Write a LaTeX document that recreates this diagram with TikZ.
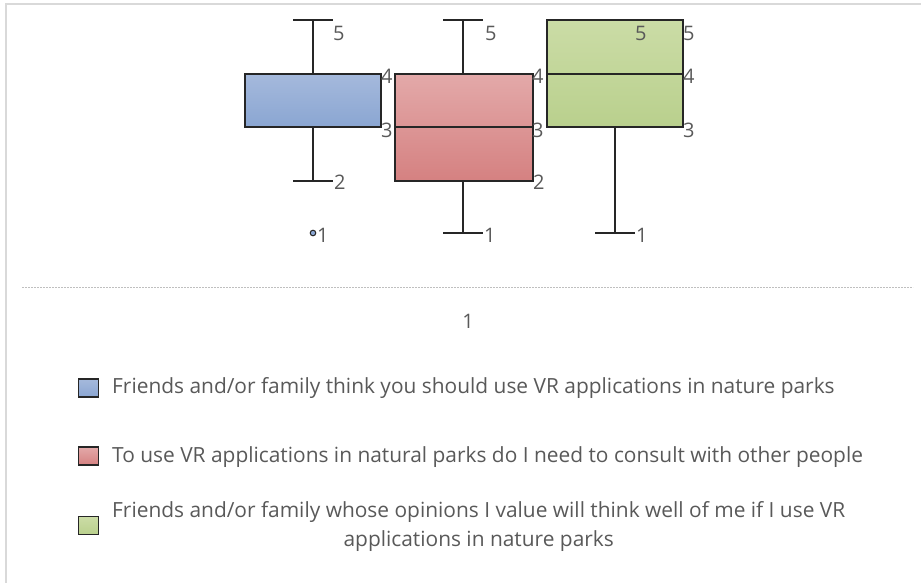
\documentclass[tikz,border=0pt]{standalone}
\usepackage{fontspec}
\setmainfont{Open Sans}
\usepackage{xcolor}
\usetikzlibrary{positioning}

\definecolor{txtgrey}{HTML}{595959}
\definecolor{edgegrey}{HTML}{262626}
\definecolor{bluetop}{HTML}{A5B9DC}
\definecolor{bluebot}{HTML}{8AA6D2}
\definecolor{redtop}{HTML}{E3A9A9}
\definecolor{redbot}{HTML}{D58181}
\definecolor{greentop}{HTML}{CBDCA6}
\definecolor{greenbot}{HTML}{B9D08D}

\begin{document}
\begin{tikzpicture}[
        x=1pt, y=-1pt,
        boxrect/.style={draw=edgegrey, line width=1.6pt},
        whisker/.style={draw=edgegrey, line width=1.6pt},
        vallabel/.style={font=\fontsize{20}{20}\selectfont, text=txtgrey, inner sep=0pt, anchor=west},
        legendtext/.style={font=\fontsize{20.9}{29}\selectfont, text=txtgrey, inner sep=0pt, anchor=west, align=center},
        legendkey/.style={draw=edgegrey, line width=1.8pt, minimum width=20pt, minimum height=18pt, inner sep=0pt}
    ]

    \useasboundingbox (0,0) rectangle (921,583);

    % Rahmen
    \draw[draw=black!15, line width=2pt] (6,583) -- (6,4) -- (921,4);

    % Box 1 (blau)
    \coordinate (B1top) at (313,20);
    \coordinate (B1q3) at (313,74);
    \coordinate (B1q1) at (313,127);
    \coordinate (B1bot) at (313,181);
    \draw[whisker] (B1top) -- (B1q3);
    \draw[whisker] (B1q1) -- (B1bot);
    \draw[whisker] (293,20) -- (333,20);
    \draw[whisker] (293,181) -- (333,181);
    \draw[boxrect, top color=bluetop, bottom color=bluebot] (245,74) rectangle (381,127);
    \fill[bluebot, draw=edgegrey, line width=1pt] (313,233) circle (2.8);
    \node[vallabel] (b1five) at (333,33) {5};
    \node[vallabel] (b1four) at (381,76) {4};
    \node[vallabel] (b1three) at (381,130) {3};
    \node[vallabel] (b1two) at (334,182) {2};
    \node[vallabel] (b1one) at (317,235) {1};

    % Box 2 (rot)
    \coordinate (B2top) at (463,20);
    \coordinate (B2q3) at (463,74);
    \coordinate (B2q1) at (463,181);
    \coordinate (B2bot) at (463,233);
    \draw[whisker] (B2top) -- (B2q3);
    \draw[whisker] (B2q1) -- (B2bot);
    \draw[whisker] (443,20) -- (483,20);
    \draw[whisker] (443,233) -- (483,233);
    \draw[boxrect, top color=redtop, bottom color=redbot] (395,74) rectangle (533,181);
    \draw[whisker] (395,127) -- (533,127);
    \node[vallabel] (b2five) at (485,33) {5};
    \node[vallabel] (b2four) at (532,76) {4};
    \node[vallabel] (b2three) at (532,130) {3};
    \node[vallabel] (b2two) at (533,182) {2};
    \node[vallabel] (b2one) at (484,235) {1};

    % Box 3 (gruen)
    \coordinate (B3q1) at (615,127);
    \coordinate (B3bot) at (615,233);
    \draw[whisker] (B3q1) -- (B3bot);
    \draw[whisker] (595,233) -- (635,233);
    \draw[boxrect, top color=greentop, bottom color=greenbot] (547,20) rectangle (683,127);
    \draw[whisker] (547,74) -- (683,74);
    \node[vallabel] (b3fivein) at (635,33) {5};
    \node[vallabel] (b3five) at (683,33) {5};
    \node[vallabel] (b3four) at (683,76) {4};
    \node[vallabel] (b3three) at (683,130) {3};
    \node[vallabel] (b3one) at (636,235) {1};

    % Achse
    \draw[draw=black!25, line width=1pt, dash pattern=on 2pt off 1pt] (22,287) -- (913,287);
    \node[vallabel, anchor=center] (axisone) at (468,321) {1};

    % Legende
    \node[legendkey, top color=bluetop, bottom color=bluebot] (key1) at (88.5,388) {};
    \node[legendtext] (leg1) at (112,388) {Friends and/or family think you should use VR applications in nature parks};
    \node[legendkey, top color=redtop, bottom color=redbot] (key2) at (88.5,456) {};
    \node[legendtext] (leg2) at (112,457) {To use VR applications in natural parks do I need to consult with other people};
    \node[legendkey, top color=greentop, bottom color=greenbot] (key3) at (88.5,525.5) {};
    \node[legendtext] (leg3) at (112,527) {Friends and/or family whose opinions I value will think well of me if I use VR\\applications in nature parks};

\end{tikzpicture}
\end{document}
